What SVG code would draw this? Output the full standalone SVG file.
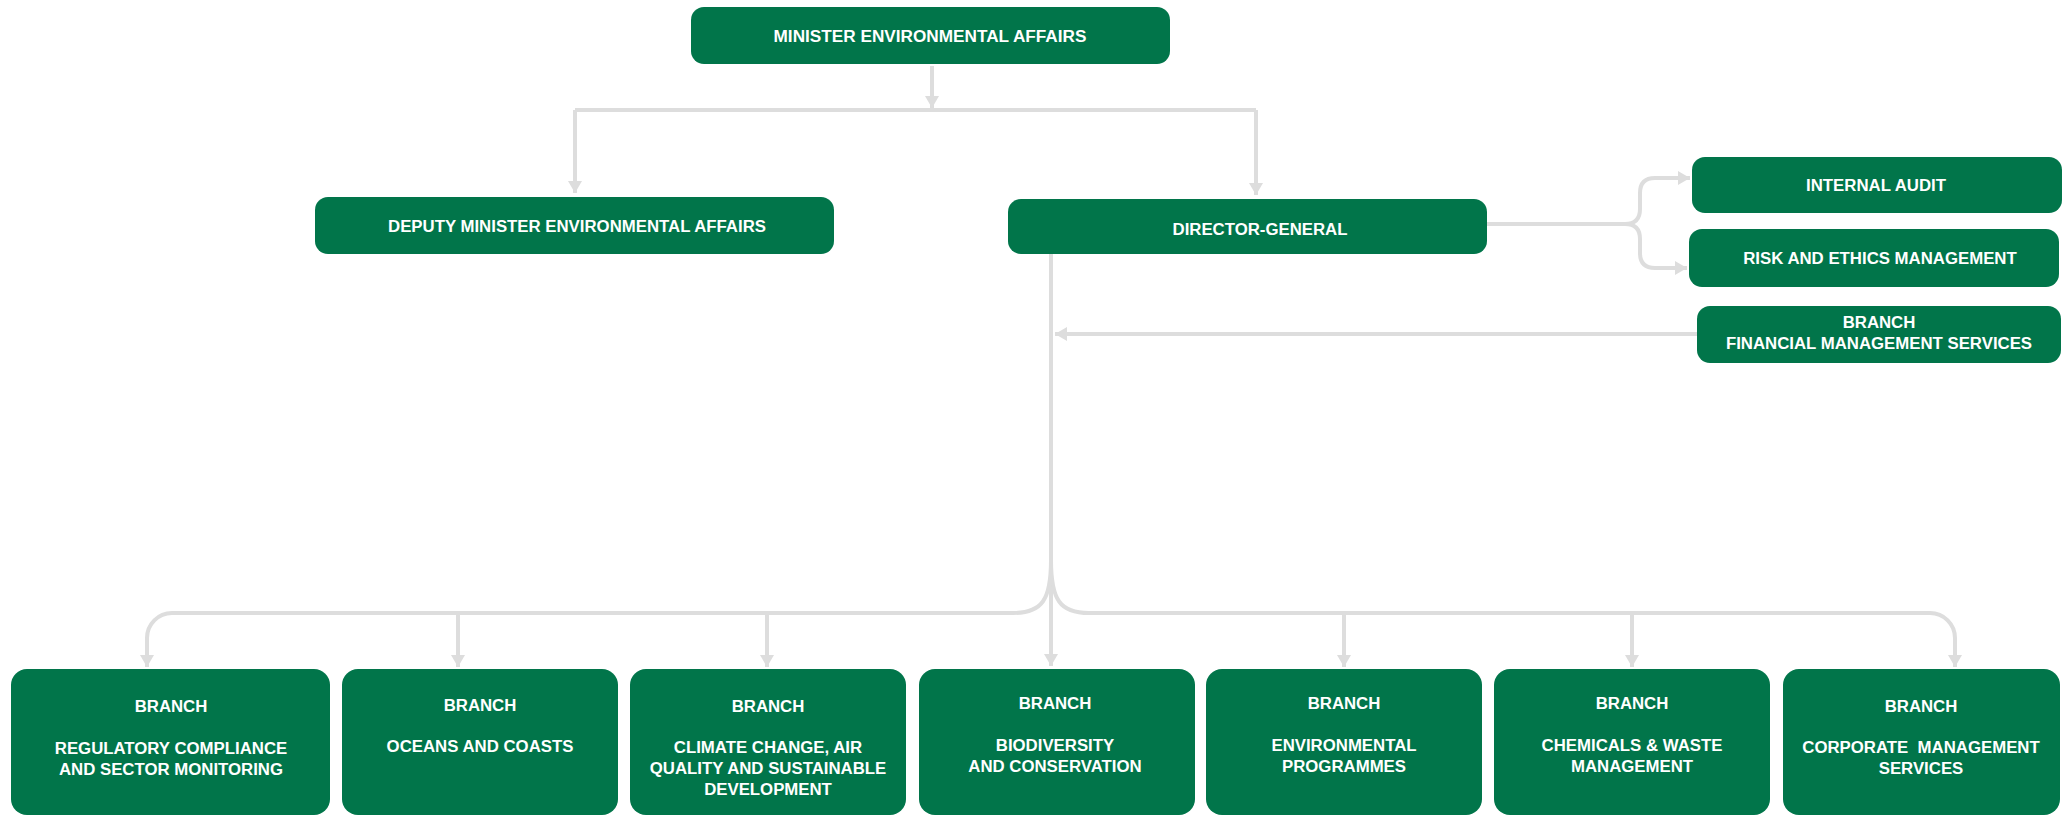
<svg xmlns="http://www.w3.org/2000/svg" width="2071" height="815" viewBox="0 0 2071 815">
<defs>
<style>
.box{fill:#01754a;}
.t{fill:#ffffff;font-family:"Liberation Sans",Arial,sans-serif;font-weight:bold;font-size:16.8px;text-anchor:middle;white-space:pre;}
.c{fill:none;stroke:#dddddd;stroke-width:4;}
</style>
<marker id="ah" viewBox="0 0 12 14" refX="12" refY="7" markerWidth="12" markerHeight="14" markerUnits="userSpaceOnUse" orient="auto">
<path d="M0,0 L12,7 L0,14 Z" fill="#dddddd"/>
</marker>
</defs>
<rect width="2071" height="815" fill="#ffffff"/>
<g id="connectors">
<path class="c" d="M932,66 V108" marker-end="url(#ah)"/>
<path class="c" d="M575,110 H1256"/>
<path class="c" d="M575,110 V193" marker-end="url(#ah)"/>
<path class="c" d="M1256,110 V195" marker-end="url(#ah)"/>
<path class="c" d="M1487,224 H1625 Q1640,224 1640,209 V193 Q1640,178 1655,178 H1690" marker-end="url(#ah)"/>
<path class="c" d="M1625,224 Q1640,224 1640,239 V253 Q1640,268 1655,268 H1687" marker-end="url(#ah)"/>
<path class="c" d="M1697,334 H1055" marker-end="url(#ah)"/>
<path class="c" d="M1051,254 V666" marker-end="url(#ah)"/>
<path class="c" d="M1051,560 C1051,600 1042,613 1013,613 H172 A25,25 0 0 0 147,638 V667" marker-end="url(#ah)"/>
<path class="c" d="M1051,560 C1051,600 1060,613 1089,613 H1930 A25,25 0 0 1 1955,638 V667" marker-end="url(#ah)"/>
<path class="c" d="M458,613 V667" marker-end="url(#ah)"/>
<path class="c" d="M767,613 V667" marker-end="url(#ah)"/>
<path class="c" d="M1344,613 V667" marker-end="url(#ah)"/>
<path class="c" d="M1632,613 V667" marker-end="url(#ah)"/>
</g>
<g id="minister"><rect class="box" x="691" y="7" width="479" height="57" rx="13"/><text class="t" x="930" y="42" style="font-size:17.2px">MINISTER ENVIRONMENTAL AFFAIRS</text></g>
<g id="deputy"><rect class="box" x="315" y="197" width="519" height="57" rx="13"/><text class="t" x="577" y="232">DEPUTY MINISTER ENVIRONMENTAL AFFAIRS</text></g>
<g id="dg"><rect class="box" x="1008" y="199" width="479" height="55" rx="13"/><text class="t" x="1260" y="235">DIRECTOR-GENERAL</text></g>
<g id="audit"><rect class="box" x="1692" y="157" width="370" height="56" rx="13"/><text class="t" x="1876" y="191">INTERNAL AUDIT</text></g>
<g id="risk"><rect class="box" x="1689" y="229" width="370" height="58" rx="13"/><text class="t" x="1880" y="264">RISK AND ETHICS MANAGEMENT</text></g>
<g id="fms"><rect class="box" x="1697" y="306" width="364" height="57" rx="13"/><text class="t" x="1879" y="328">BRANCH</text><text class="t" x="1879" y="349">FINANCIAL MANAGEMENT SERVICES</text></g>
<g id="b1"><rect class="box" x="11" y="669" width="319" height="146" rx="16"/><text class="t" x="171" y="712">BRANCH</text><text class="t" x="171" y="754">REGULATORY COMPLIANCE</text><text class="t" x="171" y="775">AND SECTOR MONITORING</text></g>
<g id="b2"><rect class="box" x="342" y="669" width="276" height="146" rx="16"/><text class="t" x="480" y="711">BRANCH</text><text class="t" x="480" y="752">OCEANS AND COASTS</text></g>
<g id="b3"><rect class="box" x="630" y="669" width="276" height="146" rx="16"/><text class="t" x="768" y="712">BRANCH</text><text class="t" x="768" y="753">CLIMATE CHANGE, AIR</text><text class="t" x="768" y="774">QUALITY AND SUSTAINABLE</text><text class="t" x="768" y="795">DEVELOPMENT</text></g>
<g id="b4"><rect class="box" x="919" y="669" width="276" height="146" rx="16"/><text class="t" x="1055" y="709">BRANCH</text><text class="t" x="1055" y="751">BIODIVERSITY</text><text class="t" x="1055" y="772">AND CONSERVATION</text></g>
<g id="b5"><rect class="box" x="1206" y="669" width="276" height="146" rx="16"/><text class="t" x="1344" y="709">BRANCH</text><text class="t" x="1344" y="751">ENVIRONMENTAL</text><text class="t" x="1344" y="772">PROGRAMMES</text></g>
<g id="b6"><rect class="box" x="1494" y="669" width="276" height="146" rx="16"/><text class="t" x="1632" y="709">BRANCH</text><text class="t" x="1632" y="751">CHEMICALS &amp; WASTE</text><text class="t" x="1632" y="772">MANAGEMENT</text></g>
<g id="b7"><rect class="box" x="1783" y="669" width="277" height="146" rx="16"/><text class="t" x="1921" y="712">BRANCH</text><text class="t" x="1921" y="753">CORPORATE  MANAGEMENT</text><text class="t" x="1921" y="774">SERVICES</text></g>
</svg>
